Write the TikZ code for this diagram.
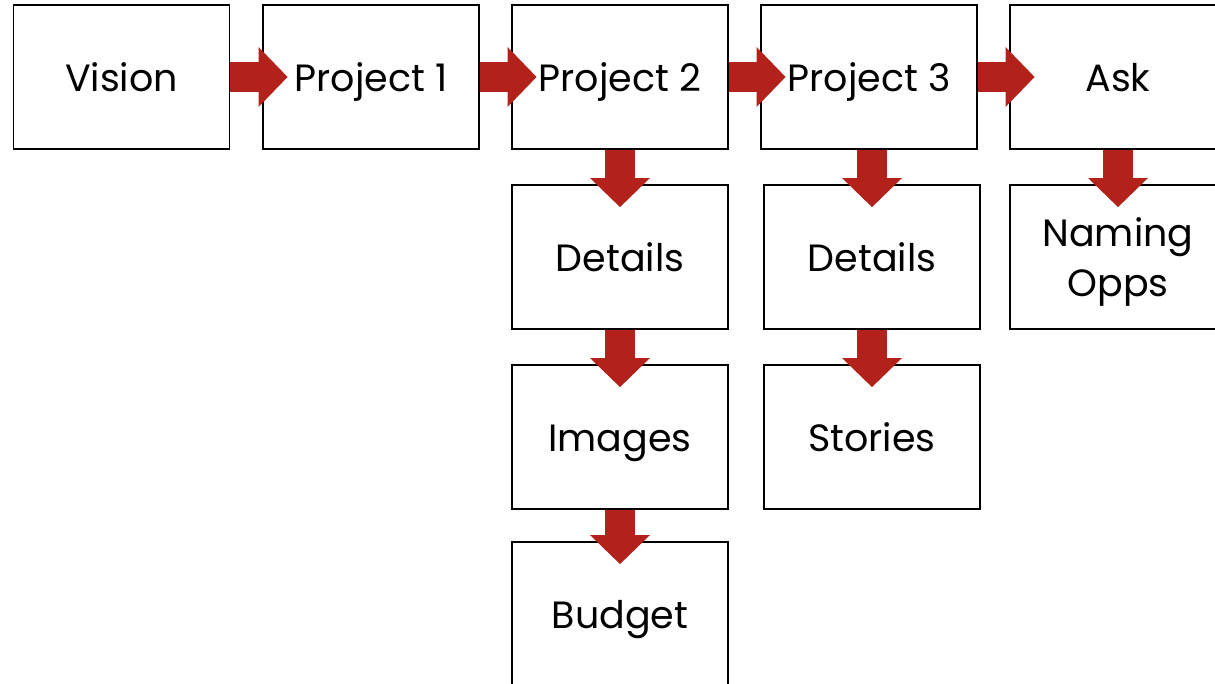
\documentclass[tikz,border=0pt]{standalone}
\usepackage{fontspec}
\setmainfont{Poppins}
\usetikzlibrary{arrows.meta}
\definecolor{arrowred}{RGB}{178,34,26}
\tikzset{
  box/.style={draw=black, line width=1.7pt, fill=white, minimum width=216pt, minimum height=144pt,
    inner sep=0pt, text height=29pt, text depth=0pt, font=\fontsize{38}{50}\selectfont},
  twoline/.style={text height=29pt, text depth=50pt},
  blk/.style={draw=arrowred, line width=30pt, -{Triangle[width=58pt,length=29pt]}},
  hblk/.style={blk, shorten >=-25.5pt},
  vblk/.style={blk, shorten >=-23pt}
}
\begin{document}
\begin{tikzpicture}[x=1pt,y=-1pt]
\useasboundingbox (0,0) rectangle (1215,684);
\clip (0,0) rectangle (1215,684);
\node[box] (vision) at (121.5,77) {Vision};
\node[box] (p1) at (371,77) {Project 1};
\node[box] (p2) at (620,77) {Project 2};
\node[box] (p3) at (869,77) {Project 3};
\node[box] (ask) at (1118,77) {Ask};
\node[box] (d2) at (620,257) {Details};
\node[box] (img) at (620,437) {Images};
\node[box] (bud) at (620,614) {Budget};
\node[box] (d3) at (872,257) {Details};
\node[box] (sto) at (872,437) {Stories};
\node[box, twoline] (nam) at (1118,257) {\begin{tabular}[t]{@{}c@{}}Naming\\Opps\end{tabular}};
\draw[hblk] (vision.east) -- (p1.west);
\draw[hblk] (p1.east) -- (p2.west);
\draw[hblk] (p2.east) -- (p3.west);
\draw[hblk] (p3.east) -- (ask.west);
\draw[vblk] (p2.south) -- (d2.north);
\draw[vblk] (d2.south) -- (img.north);
\draw[vblk] (img.south) -- (bud.north);
\draw[vblk] (d3.north |- p3.south) -- (d3.north);
\draw[vblk] (d3.south) -- (sto.north);
\draw[vblk] (ask.south) -- (nam.north);
\end{tikzpicture}
\end{document}
